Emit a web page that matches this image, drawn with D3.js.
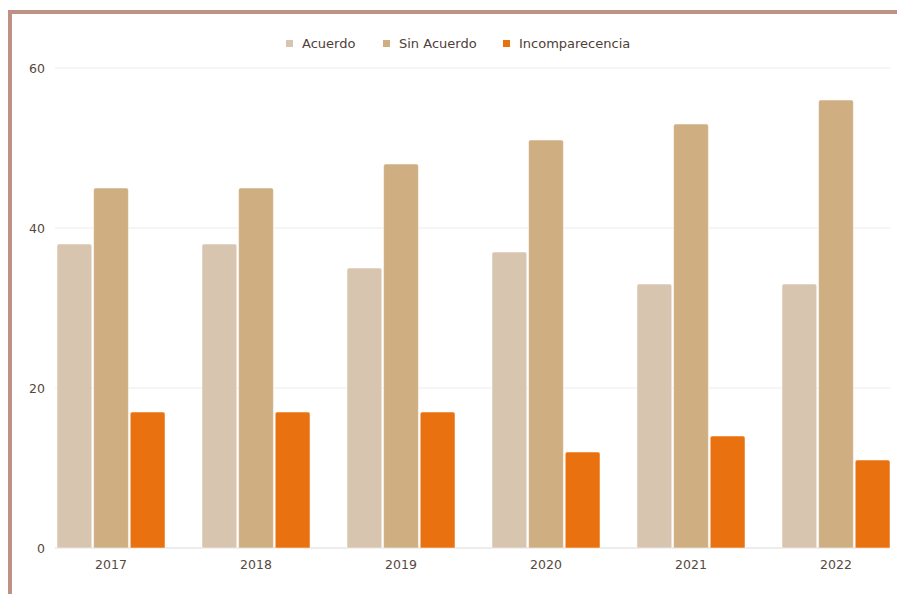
<!DOCTYPE html>
<html>
<head>
<meta charset="utf-8">
<script src="https://cdn.jsdelivr.net/npm/d3@7"></script>
<style>
body{margin:0;background:#fff;}
svg{display:block;font-family:"DejaVu Sans",Verdana,sans-serif;}
</style>
</head>
<body>
<svg id="chart" width="897" height="594"></svg>
<script>
// datos
var years = ["2017","2018","2019","2020","2021","2022"];
var series = ["Acuerdo","Sin Acuerdo","Incomparecencia"];
var acuerdo = [38,38,35,37,33,33];
var sinAcuerdo = [45,45,48,51,53,56];
var incomparecencia = [17,17,17,12,14,11];
var yTicks = [0,20,40,60];
var colors = ["#d8c5b0","#cfae82","#e9710f"];

var values = [acuerdo, sinAcuerdo, incomparecencia];
var svg = d3.select("#chart");

// marco
svg.append("path")
   .attr("d","M10,594 L10,12 L897,12")
   .attr("fill","none")
   .attr("stroke","#bf9184")
   .attr("stroke-width",4);

var x0 = d3.scaleBand().domain(years).range([57,890]).paddingInner(0.255).paddingOuter(0);
var x1 = d3.scaleBand().domain(series).range([0,x0.bandwidth()]).paddingInner(0.05);
var y = d3.scaleLinear().domain([0,60]).range([548,68]);

// rejilla
svg.append("g").selectAll("line").data(yTicks).enter().append("line")
   .attr("x1",55).attr("x2",890)
   .attr("y1",function(d){return y(d);}).attr("y2",function(d){return y(d);})
   .attr("stroke",function(d){return d==0 ? "#d9d9d9" : "#ececec";})
   .attr("stroke-width",1);

svg.append("g").selectAll("text").data(yTicks).enter().append("text")
   .attr("x",45).attr("y",function(d){return y(d)+4.5;})
   .attr("text-anchor","end")
   .attr("font-size",12.5).attr("fill","#574840")
   .text(function(d){return d;});

// barras
var groups = svg.append("g").selectAll("g").data(years).enter().append("g")
   .attr("transform",function(d){return "translate("+x0(d)+",0)";});

groups.selectAll("path").data(function(d,i){
      return series.map(function(s,j){return {s:s, v:values[j][i], c:colors[j]};});
   }).enter().append("path")
   .attr("d",function(d){
      var bx = x1(d.s), bw = x1.bandwidth(), top = y(d.v), bot = y(0), r = 2;
      return "M"+bx+","+bot+" L"+bx+","+(top+r)+" Q"+bx+","+top+" "+(bx+r)+","+top+
             " L"+(bx+bw-r)+","+top+" Q"+(bx+bw)+","+top+" "+(bx+bw)+","+(top+r)+
             " L"+(bx+bw)+","+bot+" Z";
   })
   .attr("fill",function(d){return d.c;})
   .attr("stroke","#fff").attr("stroke-opacity",0.5).attr("stroke-width",1);

// etiquetas eje x
svg.append("g").selectAll("text").data(years).enter().append("text")
   .attr("x",function(d){return x0(d)+x0.bandwidth()/2;})
   .attr("y",569)
   .attr("text-anchor","middle")
   .attr("font-size",12.5).attr("fill","#574840")
   .text(function(d){return d;});

// leyenda
var legX = [286,383,503];
var leg = svg.append("g").selectAll("g").data(series).enter().append("g")
   .attr("transform",function(d,i){return "translate("+legX[i]+",43)";});
leg.append("rect").attr("x",0).attr("y",-3).attr("width",7).attr("height",7)
   .attr("fill",function(d,i){return colors[i];});
leg.append("text").attr("x",16).attr("y",5)
   .attr("font-size",13).attr("fill","#4f4039")
   .text(function(d){return d;});
</script>
</body>
</html>
